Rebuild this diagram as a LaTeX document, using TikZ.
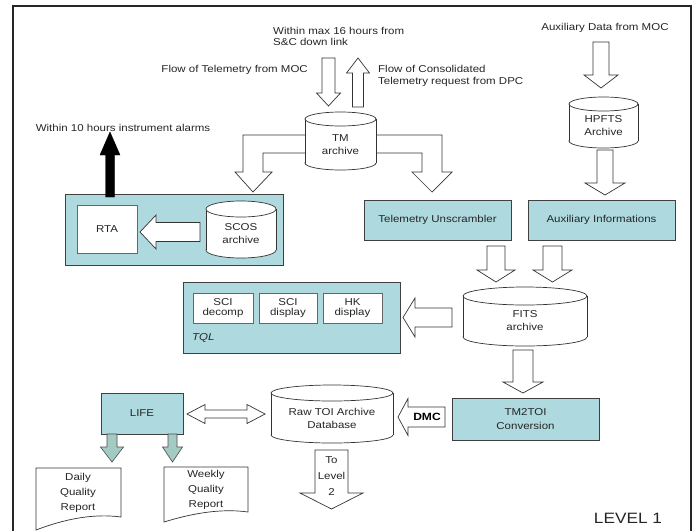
\documentclass[tikz,border=0pt]{standalone}
\usepackage{fontspec}
\setmainfont{Liberation Sans}[FakeStretch=1.15]
\definecolor{lblue}{RGB}{174,217,223}
\definecolor{agreen}{RGB}{163,203,195}
\newcommand\fs{\fontsize{10}{13}\selectfont}
\newcommand\fsn{\fontsize{10}{11}\selectfont}
% cylinder: name, x1, y1, x2, y2, ry, text
\newcommand\cylnode[7]{%
  \pgfmathsetmacro\cxx{(#2+#4)/2}%
  \pgfmathsetmacro\rxx{(#4-#2)/2}%
  \pgfmathsetmacro\ytc{#3+#6}%
  \pgfmathsetmacro\ybc{#5-#6}%
  \pgfmathsetmacro\ytx{(#3+#6+#5)/2}%
  \filldraw[cylline] (\cxx,\ybc) ellipse[x radius=\rxx, y radius=#6];
  \fill[white] (#2,\ytc) rectangle (#4,\ybc);
  \draw[cylline] (#2,\ytc) -- (#2,\ybc) (#4,\ytc) -- (#4,\ybc);
  \filldraw[cylline] (\cxx,\ytc) ellipse[x radius=\rxx, y radius=#6];
  \node[lbl, align=center] (#1) at (\cxx,\ytx) {#7};
}
% vertical block arrow: xc, ytail, yheadbase, ytip, shaft half, head half, style
\newcommand\vblock[7]{%
  \draw[#7] ({#1-#5},#2) -- ({#1+#5},#2) -- ({#1+#5},#3) -- ({#1+#6},#3) -- (#1,#4) -- ({#1-#6},#3) -- ({#1-#5},#3) -- cycle;
}
% horizontal block arrow: yc, xtail, xheadbase, xtip, shaft half, head half, style
\newcommand\hblock[7]{%
  \draw[#7] (#2,{#1-#5}) -- (#3,{#1-#5}) -- (#3,{#1-#6}) -- (#4,#1) -- (#3,{#1+#6}) -- (#3,{#1+#5}) -- (#2,{#1+#5}) -- cycle;
}
\begin{document}
\begin{tikzpicture}[x=1pt,y=-1pt,
  lbl/.style={font=\fs, text=black!85, inner sep=0pt},
  cylline/.style={draw=black!80, fill=white, line width=0.7pt},
  blockarrow/.style={draw=black!80, fill=white, line width=0.7pt, line join=miter},
  greenarrow/.style={draw=black!70, fill=agreen, line width=0.6pt, line join=miter},
  bluebox/.style={draw=black!75, fill=lblue, line width=0.8pt, inner sep=0pt, font=\fs, text=black!85, align=center},
  whitebox/.style={draw=black!60, fill=white, line width=0.6pt, inner sep=0pt, font=\fs, text=black!85, align=center},
  docline/.style={draw=black!80, fill=white, line width=0.7pt}]
\useasboundingbox (0,0) rectangle (699,531);
\fill[white] (0,0) rectangle (699,531);
% frame
\draw[line width=1.5pt, black!85] (13,531) -- (13,6) -- (691,6) -- (691,531);

% top texts
\node[lbl, anchor=west, align=left, font=\fsn] (t1) at (273,36) {Within max 16 hours from\\S\&C down link};
\node[lbl, anchor=east] (t2) at (308,70) {Flow of Telemetry from MOC};
\node[lbl, anchor=west, align=left, font=\fontsize{10}{12}\selectfont] (t3) at (378,76) {Flow of Consolidated\\Telemetry request from DPC};
\node[lbl] (t4) at (605,28) {Auxiliary Data from MOC};
\node[lbl] (t5) at (123,128) {Within 10 hours instrument alarms};
\node[lbl, font=\fontsize{15}{18}\selectfont] (lvl) at (628,518) {LEVEL 1};

% arrows around TM archive
\vblock{328.5}{58}{93}{106}{6.5}{12}{blockarrow}
\vblock{358}{107}{73}{58}{5.5}{11.5}{blockarrow}
\draw[blockarrow] (306,135) -- (243,135) -- (243,172) -- (235,172) -- (253,192) -- (272,172) -- (263,172) -- (263,153) -- (306,153) -- cycle;
\draw[blockarrow] (375,135) -- (442,135) -- (442,172) -- (452,172) -- (432,192) -- (412,172) -- (422,172) -- (422,153) -- (375,153) -- cycle;
\cylnode{tm}{305}{112}{376}{170}{7}{TM\\archive}

% HPFTS
\vblock{601}{42}{75}{88}{8}{17}{blockarrow}
\cylnode{hpfts}{569}{97}{638}{148}{7}{\fontsize{10}{11}\selectfont HPFTS\\Archive}
\vblock{605}{150}{183}{195}{8}{20}{blockarrow}

% RTA group
\node[bluebox, minimum width=218pt, minimum height=71pt] (rtagrp) at (174,229.5) {};
\node[whitebox, minimum width=60pt, minimum height=48pt] (rta) at (107,229) {RTA};
\cylnode{scos}{206}{201}{276}{258}{8}{SCOS\\archive}
\hblock{232}{200}{156}{140}{9.5}{17}{blockarrow}
\vblock{110}{197}{155}{132}{4.5}{10}{draw=black, fill=black, line join=miter}

% Telemetry Unscrambler & Auxiliary Informations
\node[bluebox, minimum width=147pt, minimum height=40pt] (tu) at (437.5,220) {Telemetry Unscrambler};
\node[bluebox, minimum width=147pt, minimum height=40pt] (aux) at (601.5,220) {Auxiliary Informations};
\vblock{496}{246}{270}{282}{9}{19}{blockarrow}
\vblock{552.5}{246}{270}{282}{9.5}{19.5}{blockarrow}

% FITS
\cylnode{fits}{463}{287}{587}{346}{9}{FITS\\archive}
\hblock{317.5}{452}{415}{403}{9.5}{19.5}{blockarrow}

% TQL
\node[bluebox, minimum width=217pt, minimum height=71pt] (tql) at (291.5,317.5) {};
\node[whitebox, minimum width=60pt, minimum height=30pt, font=\fontsize{10}{10.5}\selectfont] (scidec) at (223,308) {SCI\\decomp};
\node[whitebox, minimum width=58pt, minimum height=30pt, font=\fontsize{10}{10.5}\selectfont] (scidis) at (288,308) {SCI\\display};
\node[whitebox, minimum width=59pt, minimum height=30pt, font=\fontsize{10}{10.5}\selectfont] (hkdis) at (352.5,308) {HK\\display};
\node[lbl, anchor=west] (tqllbl) at (192,338) {\itshape TQL};

% TM2TOI
\vblock{523}{350}{382}{393}{10}{20}{blockarrow}
\node[bluebox, minimum width=147pt, minimum height=42pt, font=\fontsize{10}{14}\selectfont] (tm2toi) at (525.5,419) {TM2TOI\\Conversion};
\hblock{417}{445}{408}{398}{10}{18.5}{blockarrow}
\node[lbl, font=\fontsize{10.5}{12}\selectfont\bfseries, text=black] (dmc) at (427,417) {DMC};

% Raw TOI
\cylnode{rawtoi}{271}{385}{393}{443}{8}{\fontsize{10}{15}\selectfont Raw TOI Archive\\Database}
\vblock{331.5}{450}{493}{509}{16.5}{31.5}{blockarrow}
\node[lbl, align=center, font=\fontsize{10}{16}\selectfont] (lvl2) at (331.5,476) {To\\Level\\2};

% LIFE
\node[bluebox, minimum width=82pt, minimum height=41pt] (life) at (142,413.5) {LIFE};
\draw[blockarrow] (187,414) -- (205,404.5) -- (205,410) -- (247,410) -- (247,404.5) -- (265,414) -- (247,423.5) -- (247,418) -- (205,418) -- (205,423.5) -- cycle;
\vblock{112}{434}{447}{462}{5}{11.5}{greenarrow}
\vblock{172.5}{434}{447}{462}{4.5}{10}{greenarrow}

% documents
\draw[docline] (36,468) -- (121,468) -- (121,517) .. controls (92,513) and (62,520) .. (36,530) -- cycle;
\node[lbl, align=center, font=\fontsize{10}{15}\selectfont] (daily) at (78,493) {Daily\\Quality\\Report};
\draw[docline] (164,467) -- (248,467) -- (248,512) .. controls (220,508) and (190,514) .. (164,522) -- cycle;
\node[lbl, align=center, font=\fontsize{10}{15}\selectfont] (weekly) at (206,490) {Weekly\\Quality\\Report};
\end{tikzpicture}
\end{document}
